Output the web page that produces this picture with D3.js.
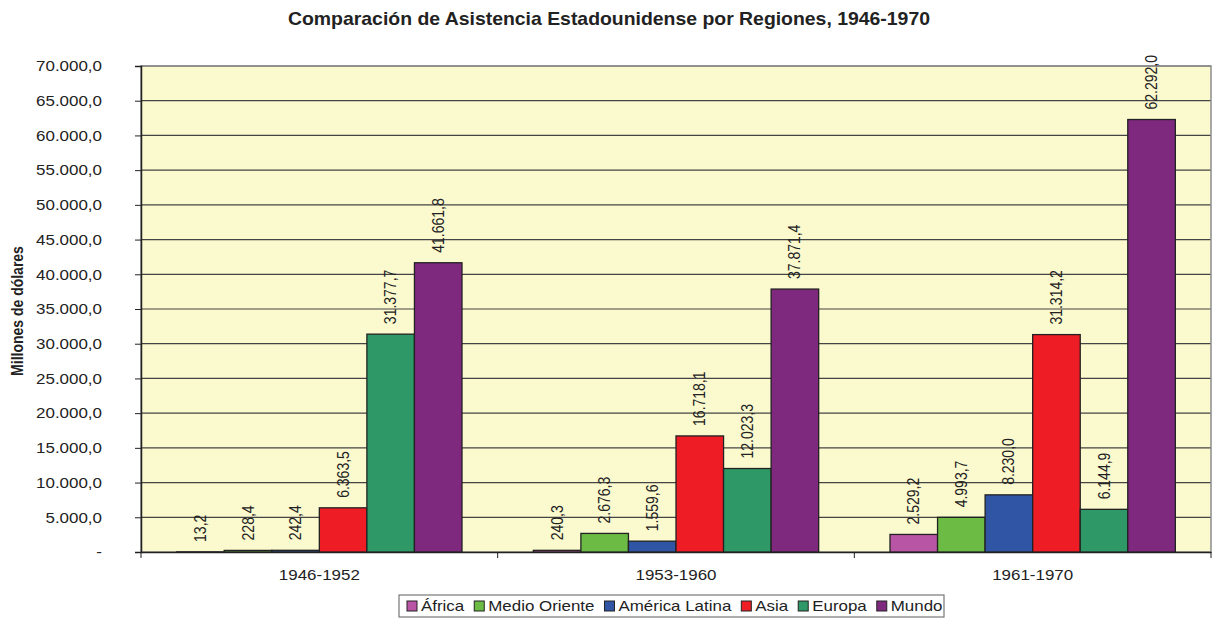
<!DOCTYPE html>
<html><head><meta charset="utf-8">
<script src="https://cdn.jsdelivr.net/npm/d3@7"></script>
<style>body{margin:0;background:#fff;} svg{display:block;font-family:"Liberation Sans",Arial,sans-serif;}</style>
</head><body>
<svg id="c" width="1217" height="621"></svg>
<script>
const categories = ["1946-1952", "1953-1960", "1961-1970"];
const regions = ["África", "Medio Oriente", "América Latina", "Asia", "Europa", "Mundo"];
const colors = ["#B955A5", "#6CBB45", "#2F55A4", "#EE1C24", "#2E9966", "#7E287E"];
const valuesAfrica = [13.2, 240.3, 2529.2];
const valuesMedioOriente = [228.4, 2676.3, 4993.7];
const valuesAmericaLatina = [242.4, 1559.6, 8230.0];
const valuesAsia = [6363.5, 16718.1, 31314.2];
const valuesEuropa = [31377.7, 12023.3, 6144.9];
const valuesMundo = [41661.8, 37871.4, 62292.0];
const yTicks = [0, 5000, 10000, 15000, 20000, 25000, 30000, 35000, 40000, 45000, 50000, 55000, 60000, 65000, 70000];
const title = "Comparación de Asistencia Estadounidense por Regiones, 1946-1970";
const yTitle = "Millones de dólares";

const series = [valuesAfrica, valuesMedioOriente, valuesAmericaLatina, valuesAsia, valuesEuropa, valuesMundo];

const svg = d3.select("#c");
const L = 141, R = 1211, T = 66, B = 552;
const SX = 1.13;
const x0 = d3.scaleBand().domain(categories).range([L, R]).paddingInner(0).paddingOuter(0);
const x1 = d3.scaleBand().domain(regions).range([0, x0.bandwidth()]).paddingOuter(0.75).paddingInner(0);
const y = d3.scaleLinear().domain([0, 70000]).range([B, T]);

const fmt = v => {
  const s = d3.format(",.1f")(v);
  return s.replace(/,/g, "#").replace(/\./g, ",").replace(/#/g, ".");
};

// plot bg
svg.append("rect").attr("x", L).attr("y", T).attr("width", R - L).attr("height", B - T)
  .attr("fill", "#FBF9CE");

// gridlines
svg.append("g").selectAll("line").data(yTicks.filter(d => d > 0)).join("line")
  .attr("x1", L).attr("x2", R).attr("y1", d => y(d)).attr("y2", d => y(d))
  .attr("stroke", "#444").attr("stroke-width", 1.2);

// border
svg.append("rect").attr("x", L).attr("y", T).attr("width", R - L).attr("height", B - T)
  .attr("fill", "none").attr("stroke", "#8c8c8c").attr("stroke-width", 1.5);

// y axis
const yAxis = d3.axisLeft(y).tickValues(yTicks).tickSize(6).tickPadding(33)
  .tickFormat(d => d === 0 ? "-" : fmt(d));
const gy = svg.append("g").attr("transform", `translate(${L},0)`).call(yAxis);
gy.select(".domain").attr("stroke", "#222").attr("stroke-width", 1.5);
gy.selectAll(".tick line").attr("stroke", "#222");
gy.selectAll(".tick text").attr("font-size", 15).attr("fill", "#222").attr("font-family", "Liberation Sans, Arial, sans-serif")
  .each(function() {
    const t = d3.select(this); const xx = +t.attr("x");
    t.attr("x", 0).attr("transform", `translate(${xx},0) scale(${SX},1)`);
  });

// x axis
const xAxis = d3.axisBottom(x0).tickSize(0).tickPadding(17);
const gx = svg.append("g").attr("transform", `translate(0,${B})`).call(xAxis);
gx.select(".domain").attr("stroke", "#222").attr("stroke-width", 1.5);
gx.selectAll(".tick text").attr("font-size", 15).attr("fill", "#222").attr("font-family", "Liberation Sans, Arial, sans-serif")
  .each(function() {
    const t = d3.select(this); const yy = +t.attr("y");
    t.attr("y", 0).attr("transform", `translate(0,${yy}) scale(${SX},1)`);
  });
gx.append("g").selectAll("line").data(d3.range(categories.length + 1)).join("line")
  .attr("x1", i => L + i * x0.bandwidth()).attr("x2", i => L + i * x0.bandwidth())
  .attr("y1", 0).attr("y2", 6).attr("stroke", "#222");

// bars
const data = [];
categories.forEach((c, ci) => regions.forEach((r, ri) => data.push({c, r, ri, v: series[ri][ci]})));
svg.append("g").selectAll("rect").data(data).join("rect")
  .attr("x", d => x0(d.c) + x1(d.r)).attr("width", x1.bandwidth())
  .attr("y", d => y(d.v)).attr("height", d => B - y(d.v))
  .attr("fill", d => colors[d.ri]).attr("stroke", "#222").attr("stroke-width", 1.3);

// labels
svg.append("g").selectAll("text").data(data).join("text")
  .attr("transform", d => `translate(${x0(d.c) + x1(d.r) + x1.bandwidth() / 2 + 5.5},${y(d.v) - 10}) rotate(-90) scale(1,${SX})`)
  .attr("font-size", 14).attr("fill", "#222").text(d => fmt(d.v));

// title
svg.append("text").attr("x", 288).attr("y", 25)
  .attr("font-size", 19).attr("font-weight", "bold").attr("fill", "#222")
  .attr("textLength", 642).attr("lengthAdjust", "spacingAndGlyphs").text(title);

// y title
svg.append("text").attr("transform", `translate(23,311) rotate(-90) scale(1,${SX})`).attr("text-anchor", "middle")
  .attr("font-size", 14).attr("font-weight", "bold").attr("fill", "#222").text(yTitle);

// legend
const lg = svg.append("g");
const lx = 399, ly = 595, lw = 545, lh = 22;
const LS = 1.21;
lg.append("rect").attr("x", lx).attr("y", ly).attr("width", lw).attr("height", lh)
  .attr("fill", "#fff").attr("stroke", "#777").attr("stroke-width", 1.2);
let cx = lx + 8;
regions.forEach((r, i) => {
  lg.append("rect").attr("x", cx).attr("y", ly + 6).attr("width", 10).attr("height", 10)
    .attr("fill", colors[i]).attr("stroke", "#222").attr("stroke-width", 1);
  const t = lg.append("text").attr("transform", `translate(${cx + 14},${ly + 16}) scale(${LS},1)`)
    .attr("font-size", 14).attr("fill", "#222").text(r);
  cx += 14 + t.node().getComputedTextLength() * LS + 10;
});
</script>
</body></html>
